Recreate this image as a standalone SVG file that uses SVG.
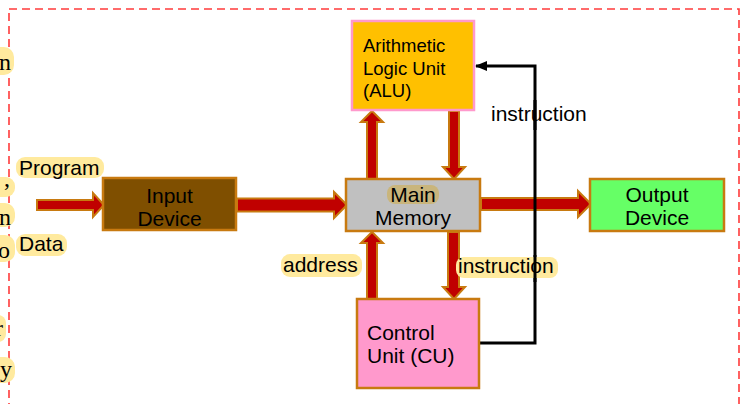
<svg xmlns="http://www.w3.org/2000/svg" width="744" height="404" viewBox="0 0 744 404">
<defs>
<style>
.box{stroke:#C87A10;stroke-width:2.5}
.t{font-family:"Liberation Sans",Arial,sans-serif;fill:#000}
.lbl{font-family:"Liberation Sans",Arial,sans-serif;font-size:21px;fill:#000}
.hl{fill:#FFEA9E}
.ba{fill:#C00000;stroke:#C87A10;stroke-width:2;stroke-linejoin:miter}
.frag{font-family:"Liberation Serif","Times New Roman",serif;font-size:24px;fill:#000}
</style>
<marker id="ah" markerWidth="12" markerHeight="10" refX="11" refY="5" orient="auto" markerUnits="userSpaceOnUse">
<path d="M0,0 L12,5 L0,10 Z" fill="#000"/>
</marker>
</defs>
<rect width="744" height="404" fill="#fff"/>
<rect x="9" y="9" width="730" height="420" fill="none" stroke="#FF3B3B" stroke-width="1.6" stroke-dasharray="8,5"/>

<g id="fragments">
<rect class="hl" x="-10" y="47" width="24" height="28" rx="10"/>
<text class="frag" x="11" y="70" text-anchor="end">n</text>
<rect class="hl" x="-10" y="177" width="25" height="20" rx="9"/>
<text class="frag" x="10" y="186" text-anchor="end">,</text>
<rect class="hl" x="-10" y="203" width="25" height="24" rx="10"/>
<text class="frag" x="11" y="225" text-anchor="end">n</text>
<rect class="hl" x="-10" y="235" width="25" height="27" rx="10"/>
<text class="frag" x="10" y="258" text-anchor="end">o</text>
<rect class="hl" x="-10" y="315" width="16" height="27" rx="8"/>
<text class="frag" x="3" y="336" text-anchor="end">r</text>
<rect class="hl" x="-10" y="357" width="25" height="26" rx="10"/>
<text class="frag" x="12" y="377" text-anchor="end">y</text>
</g>

<g id="connectors">
<path class="ba" d="M37,200 H93 V193 L104,205 L93,217 V210 H37 Z"/>
<path class="ba" d="M237,198.5 H334 V192 L347,205 L334,218 V211.5 H237 Z"/>
<path class="ba" d="M481,198 H578 V191 L591,204 L578,217 V210 H481 Z"/>
<path class="ba" d="M367,179 V122 H361 L372,111 L383,122 H377 V179 Z"/>
<path class="ba" d="M449,111 V167 H443 L454,179 L465,167 H459 V111 Z"/>
<path class="ba" d="M367,299 V243 H361 L372,232 L383,243 H377 V299 Z"/>
<path class="ba" d="M448,232 V287 H443 L454,299 L465,287 H459 V232 Z"/>
<polyline points="480,343 535,343 535,66 476,66" fill="none" stroke="#000" stroke-width="3" marker-end="url(#ah)"/>
</g>

<g id="alu">
<rect x="352" y="21" width="122" height="89" fill="#FFC000" stroke="#FF99CC" stroke-width="2.5"/>
<text class="t" font-size="18.5" x="363" y="52">Arithmetic</text>
<text class="t" font-size="18.5" x="363" y="75">Logic Unit</text>
<text class="t" font-size="18.5" x="363" y="97">(ALU)</text>
</g>

<g id="input">
<rect class="box" x="103" y="178" width="133" height="52" fill="#7F4F00"/>
<text class="t" font-size="21" x="169.5" y="203" text-anchor="middle">Input</text>
<text class="t" font-size="21" x="169.5" y="226" text-anchor="middle">Device</text>
</g>

<g id="memory">
<rect class="box" x="346" y="179" width="134" height="52" fill="#C0C0C0"/>
<rect x="387" y="185" width="52" height="19" rx="8" fill="#C9B57C"/>
<text class="t" font-size="21" x="413" y="202" text-anchor="middle">Main</text>
<text class="t" font-size="21" x="413" y="225" text-anchor="middle">Memory</text>
</g>

<g id="output">
<rect class="box" x="590" y="179" width="134" height="52" fill="#66FF66"/>
<text class="t" font-size="21" x="657" y="202" text-anchor="middle">Output</text>
<text class="t" font-size="21" x="657" y="225" text-anchor="middle">Device</text>
</g>

<g id="cu">
<rect class="box" x="357" y="299" width="122" height="89" fill="#FF99CC"/>
<text class="t" font-size="21" x="367" y="340">Control</text>
<text class="t" font-size="21" x="367" y="363">Unit (CU)</text>
</g>

<g id="labels">
<rect class="hl" x="16" y="157" width="88" height="21" rx="9"/>
<text class="lbl" x="19" y="175">Program</text>
<rect class="hl" x="16" y="234" width="51" height="22" rx="9"/>
<text class="lbl" x="19" y="251">Data</text>
<rect class="hl" x="281" y="254" width="81" height="23" rx="9"/>
<text class="lbl" x="283" y="272">address</text>
<rect class="hl" x="456" y="257" width="102" height="21" rx="8"/>
<text class="lbl" x="458" y="273">instruction</text>
<text class="lbl" x="491" y="121">instruction</text>
<line x1="535" y1="100" x2="535" y2="130" stroke="#000" stroke-width="3"/>
<line x1="535" y1="255" x2="535" y2="282" stroke="#000" stroke-width="3"/>
</g>
</svg>
